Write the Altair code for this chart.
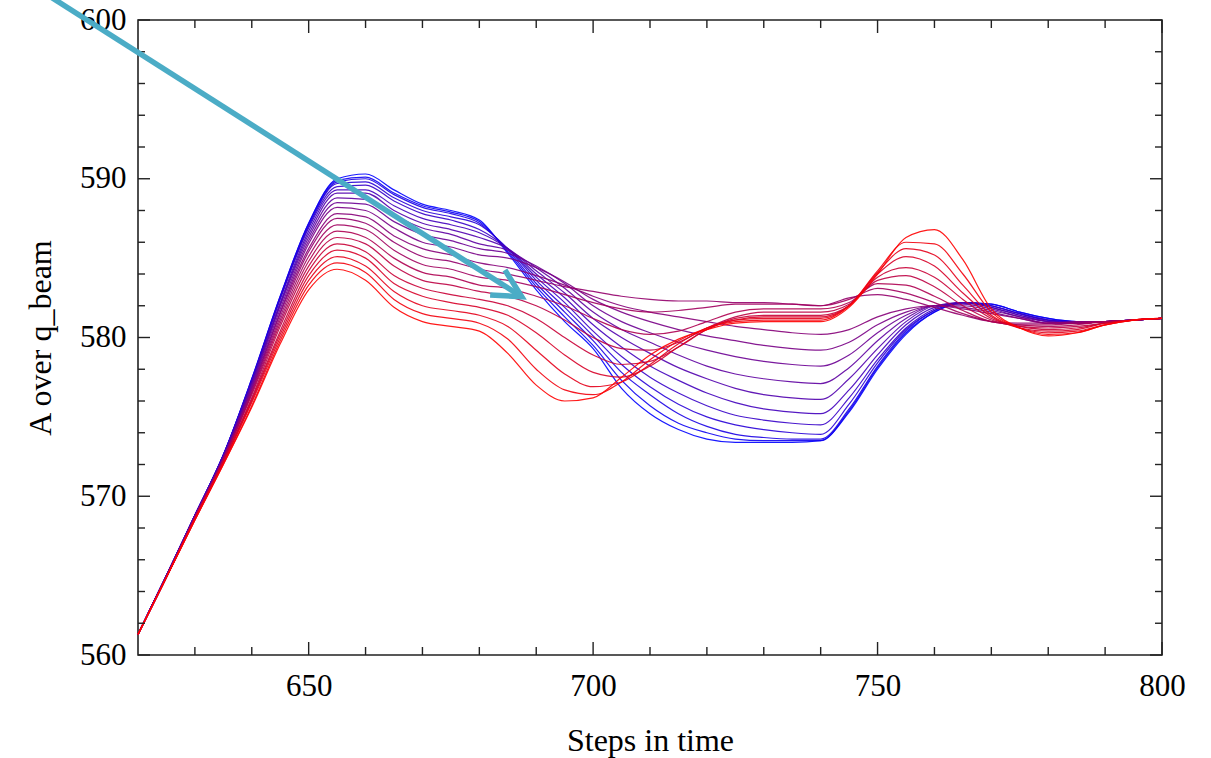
import altair as alt
import pandas as pd

# x grid (steps in time)
STEPS = [620, 625, 630, 635, 640, 645, 650, 655, 660, 665, 670, 675, 680,
         685, 690, 695, 700, 705, 710, 715, 720, 725, 730, 735, 740,
         745, 750, 755, 760, 765, 770, 775, 780, 785, 790, 795, 800]

# curves, red-most (run_00) to blue-most (run_19)
run_00 = [561.3, 564.9, 568.5, 572.0, 575.6, 579.6, 583.0, 584.3, 583.6, 581.9, 581.0, 580.7, 580.4,
          579.0, 577.0, 576.0, 576.2, 577.5, 578.9, 579.9, 580.5, 580.9, 581.0, 581.0, 581.0,
          581.9, 584.0, 586.3, 586.8, 584.9, 581.8, 580.6, 580.1, 580.3, 580.8, 581.1, 581.2]
run_01 = [561.3, 564.9, 568.5, 572.0, 575.7, 579.8, 583.3, 584.7, 584.1, 582.4, 581.5, 581.2, 580.9,
          579.9, 578.0, 576.7, 576.4, 577.2, 578.6, 579.8, 580.6, 581.0, 581.1, 581.1, 581.1,
          582.0, 584.2, 586.0, 585.9, 584.0, 581.6, 580.6, 580.2, 580.3, 580.8, 581.1, 581.2]
run_02 = [561.3, 564.9, 568.5, 572.1, 575.9, 580.0, 583.6, 585.1, 584.5, 582.9, 582.0, 581.7, 581.4,
          580.7, 579.2, 577.7, 576.9, 577.2, 578.3, 579.6, 580.6, 581.1, 581.2, 581.2, 581.2,
          582.0, 584.1, 585.6, 585.2, 583.3, 581.4, 580.6, 580.3, 580.4, 580.8, 581.1, 581.2]
run_03 = [561.3, 564.9, 568.6, 572.1, 576.0, 580.2, 583.9, 585.5, 585.0, 583.4, 582.6, 582.2, 581.9,
          581.4, 580.3, 578.9, 577.8, 577.5, 578.2, 579.4, 580.5, 581.1, 581.3, 581.3, 581.3,
          582.0, 584.0, 585.1, 584.5, 582.8, 581.3, 580.6, 580.4, 580.5, 580.9, 581.1, 581.2]
run_04 = [561.3, 564.9, 568.6, 572.2, 576.1, 580.4, 584.2, 585.9, 585.4, 583.9, 583.1, 582.7, 582.4,
          582.0, 581.2, 580.0, 578.9, 578.3, 578.5, 579.4, 580.5, 581.2, 581.4, 581.4, 581.4,
          582.0, 583.8, 584.4, 583.8, 582.4, 581.2, 580.7, 580.5, 580.6, 580.9, 581.1, 581.2]
run_05 = [561.3, 564.9, 568.6, 572.2, 576.2, 580.7, 584.5, 586.3, 585.9, 584.5, 583.6, 583.3, 582.9,
          582.6, 582.0, 581.1, 580.0, 579.3, 579.2, 579.7, 580.6, 581.3, 581.6, 581.6, 581.6,
          582.1, 583.6, 583.9, 583.2, 582.0, 581.1, 580.7, 580.6, 580.7, 580.9, 581.1, 581.2]
run_06 = [561.3, 564.9, 568.6, 572.3, 576.4, 580.9, 584.8, 586.7, 586.3, 585.0, 584.1, 583.8, 583.3,
          583.1, 582.6, 582.0, 581.2, 580.5, 580.2, 580.4, 581.0, 581.6, 581.8, 581.8, 581.8,
          582.2, 583.4, 583.3, 582.6, 581.7, 581.0, 580.8, 580.7, 580.8, 581.0, 581.1, 581.2]
run_07 = [561.3, 564.9, 568.7, 572.3, 576.5, 581.1, 585.1, 587.1, 586.8, 585.5, 584.6, 584.3, 583.8,
          583.6, 583.2, 582.7, 582.2, 581.8, 581.6, 581.7, 581.9, 582.1, 582.1, 582.1, 582.0,
          582.4, 583.1, 582.8, 582.2, 581.5, 581.0, 580.8, 580.8, 580.9, 581.0, 581.1, 581.2]
run_08 = [561.3, 564.9, 568.7, 572.3, 576.6, 581.3, 585.4, 587.5, 587.2, 586.0, 585.1, 584.8, 584.3,
          584.0, 583.6, 583.2, 582.9, 582.6, 582.4, 582.3, 582.3, 582.2, 582.2, 582.1, 582.0,
          582.5, 582.7, 582.4, 581.9, 581.4, 581.0, 580.9, 580.9, 581.0, 581.0, 581.1, 581.2]
run_09 = [561.3, 564.9, 568.7, 572.4, 576.7, 581.5, 585.6, 587.8, 587.6, 586.4, 585.6, 585.2, 584.7,
          584.4, 583.9, 583.3, 582.6, 582.0, 581.6, 581.3, 581.0, 580.7, 580.5, 580.3, 580.2,
          580.5, 581.3, 581.8, 582.0, 581.8, 581.5, 581.2, 580.9, 580.9, 581.0, 581.1, 581.2]
run_10 = [561.3, 565.0, 568.7, 572.4, 576.8, 581.6, 585.9, 588.2, 588.0, 586.9, 586.0, 585.7, 585.2,
          585.0, 584.4, 583.5, 582.4, 581.6, 581.0, 580.5, 580.1, 579.8, 579.5, 579.3, 579.2,
          579.7, 580.8, 581.6, 582.0, 581.9, 581.6, 581.2, 580.9, 580.9, 581.0, 581.1, 581.2]
run_11 = [561.3, 565.0, 568.7, 572.4, 576.9, 581.8, 586.1, 588.5, 588.4, 587.3, 586.5, 586.1, 585.6,
          585.3, 584.5, 583.4, 582.0, 581.0, 580.3, 579.7, 579.2, 578.8, 578.5, 578.3, 578.2,
          578.9, 580.3, 581.4, 582.0, 582.0, 581.7, 581.3, 580.9, 580.9, 581.0, 581.1, 581.2]
run_12 = [561.3, 565.0, 568.7, 572.5, 577.0, 582.0, 586.3, 588.8, 588.7, 587.7, 586.9, 586.5, 585.9,
          585.5, 584.4, 583.1, 581.6, 580.5, 579.7, 578.9, 578.2, 577.7, 577.4, 577.2, 577.1,
          578.1, 579.8, 581.2, 582.0, 582.1, 581.8, 581.3, 581.0, 580.9, 581.0, 581.1, 581.2]
run_13 = [561.3, 565.0, 568.8, 572.5, 577.1, 582.1, 586.5, 589.1, 589.1, 588.0, 587.2, 586.8, 586.3,
          585.6, 584.2, 582.8, 581.2, 580.0, 579.0, 578.1, 577.4, 576.8, 576.4, 576.2, 576.1,
          577.4, 579.3, 581.0, 582.0, 582.2, 581.9, 581.4, 581.0, 580.9, 581.0, 581.1, 581.2]
run_14 = [561.3, 565.0, 568.8, 572.5, 577.2, 582.2, 586.7, 589.3, 589.3, 588.3, 587.5, 587.1, 586.6,
          585.6, 584.0, 582.5, 580.8, 579.4, 578.2, 577.3, 576.5, 575.9, 575.5, 575.3, 575.2,
          576.7, 578.9, 580.8, 581.9, 582.2, 581.9, 581.4, 581.0, 580.9, 581.0, 581.1, 581.2]
run_15 = [561.3, 565.0, 568.8, 572.6, 577.3, 582.4, 586.9, 589.5, 589.6, 588.6, 587.8, 587.4, 586.8,
          585.6, 583.8, 582.2, 580.4, 578.8, 577.5, 576.5, 575.7, 575.1, 574.8, 574.6, 574.5,
          576.2, 578.6, 580.6, 581.8, 582.2, 582.0, 581.5, 581.1, 580.9, 581.0, 581.1, 581.2]
run_16 = [561.3, 565.0, 568.8, 572.6, 577.3, 582.5, 587.0, 589.7, 589.8, 588.8, 588.0, 587.6, 587.1,
          585.6, 583.6, 581.9, 580.1, 578.3, 576.9, 575.8, 575.0, 574.5, 574.2, 574.0, 573.9,
          575.8, 578.4, 580.5, 581.7, 582.2, 582.0, 581.5, 581.1, 581.0, 581.0, 581.1, 581.2]
run_17 = [561.3, 565.0, 568.8, 572.6, 577.3, 582.5, 587.1, 589.8, 590.0, 589.0, 588.2, 587.8, 587.2,
          585.5, 583.4, 581.6, 579.8, 577.8, 576.4, 575.2, 574.4, 573.9, 573.7, 573.6, 573.6,
          575.5, 578.2, 580.4, 581.7, 582.2, 582.0, 581.5, 581.1, 581.0, 581.0, 581.1, 581.2]
run_18 = [561.3, 565.0, 568.8, 572.6, 577.4, 582.6, 587.2, 589.9, 590.1, 589.1, 588.3, 587.9, 587.3,
          585.4, 583.2, 581.3, 579.5, 577.3, 575.7, 574.6, 574.0, 573.6, 573.5, 573.5, 573.5,
          575.4, 578.1, 580.3, 581.6, 582.2, 582.1, 581.6, 581.2, 581.0, 581.0, 581.1, 581.2]
run_19 = [561.3, 565.0, 568.8, 572.6, 577.4, 582.6, 587.2, 590.0, 590.3, 589.3, 588.4, 588.0, 587.4,
          585.3, 583.0, 581.0, 579.3, 576.8, 575.2, 574.2, 573.6, 573.4, 573.4, 573.4, 573.5,
          575.3, 578.0, 580.2, 581.6, 582.2, 582.1, 581.6, 581.2, 581.0, 581.0, 581.1, 581.2]

CURVES = [run_00, run_01, run_02, run_03, run_04, run_05, run_06, run_07, run_08, run_09,
          run_10, run_11, run_12, run_13, run_14, run_15, run_16, run_17, run_18, run_19]

# axis labels and ticks
X_LABELS = [650, 700, 750, 800]
X_MINOR = [630, 640, 660, 670, 680, 690, 710, 720, 730, 740, 760, 770, 780, 790]
Y_LABELS = [560, 570, 580, 590, 600]
Y_MINOR = [562, 564, 566, 568, 572, 574, 576, 578, 582, 584, 586, 588, 592, 594, 596, 598]

# annotation arrow (data coordinates)
ARROW_SHAFT_X = [597.0, 687.45]
ARROW_SHAFT_Y = [603.2, 582.57]
ARROW_HEAD_X = [684.5, 687.45, 681.9]
ARROW_HEAD_Y = [584.25, 582.57, 582.68]

W, H = 1024, 635
FONT = "Liberation Serif"

rows = []
n = len(CURVES)
for j, vals in enumerate(CURVES):
    d = n - 1 - j  # draw blue first, red last
    for x, y in zip(STEPS, vals):
        rows.append({"key": f"s{d:02d}", "ord": d, "step": x, "A": y})
df = pd.DataFrame(rows).sort_values(["ord", "step"]).reset_index(drop=True)
keys = [f"s{d:02d}" for d in range(n)]
colors = []
for d in range(n):
    r = d / (n - 1)
    colors.append("#%02x00%02x" % (round(255 * r), round(255 * (1 - r))))

xs = alt.Scale(domain=[620, 800], nice=False, zero=False)
ys = alt.Scale(domain=[560, 600], nice=False, zero=False)

XAX = alt.Axis(values=X_LABELS, ticks=False, tickSize=0, domain=False, grid=False,
               labelFlush=False, labelPadding=16, labelFont=FONT, labelFontSize=31,
               labelColor="#000", format="d", title="Steps in time", titleFont=FONT,
               titleFontSize=32, titleFontWeight="normal", titleColor="#000",
               titlePadding=24)
YAX = alt.Axis(values=Y_LABELS, ticks=False, tickSize=0, domain=False, grid=False,
               labelFlush=False, labelPadding=12, labelFont=FONT, labelFontSize=31,
               labelColor="#000", format="d", title="A over q_beam", titleFont=FONT,
               titleFontSize=32, titleFontWeight="normal", titleColor="#000",
               titlePadding=22)

lines = alt.Chart(df).mark_line(strokeWidth=1.2, opacity=0.9, interpolate="monotone").encode(
    x=alt.X("step:Q", scale=xs, axis=XAX, title="Steps in time"),
    y=alt.Y("A:Q", scale=ys, axis=YAX, title="A over q_beam"),
    color=alt.Color("key:N", scale=alt.Scale(domain=keys, range=colors), legend=None),
)

TICK = dict(color="#222", strokeWidth=1.4)


def xticks(vals, length, top):
    c = alt.Chart(pd.DataFrame({"v": vals})).mark_rule(**TICK)
    xe = alt.X("v:Q", scale=xs, axis=XAX, title="Steps in time")
    if top:
        return c.encode(x=xe, y=alt.value(0), y2=alt.value(length))
    return c.encode(x=xe, y=alt.value(H), y2=alt.value(H - length))


def yticks(vals, length, right):
    c = alt.Chart(pd.DataFrame({"v": vals})).mark_rule(**TICK)
    ye = alt.Y("v:Q", scale=ys, axis=YAX, title="A over q_beam")
    if right:
        return c.encode(y=ye, x=alt.value(W), x2=alt.value(W - length))
    return c.encode(y=ye, x=alt.value(0), x2=alt.value(length))


ticks = [
    xticks(X_LABELS, 13, False), xticks(X_MINOR, 8, False),
    xticks(X_LABELS, 13, True), xticks(X_MINOR, 8, True),
    yticks(Y_LABELS, 12, False), yticks(Y_MINOR, 7, False),
    yticks(Y_LABELS, 12, True), yticks(Y_MINOR, 7, True),
]

arrow_df = pd.DataFrame(
    [{"seg": "shaft", "o": i, "x": x, "y": y} for i, (x, y) in enumerate(zip(ARROW_SHAFT_X, ARROW_SHAFT_Y))]
    + [{"seg": "head", "o": i, "x": x, "y": y} for i, (x, y) in enumerate(zip(ARROW_HEAD_X, ARROW_HEAD_Y))]
)
arrow = alt.Chart(arrow_df).mark_line(color="#4BACC6", strokeWidth=5.5, strokeJoin="miter",
                                      strokeCap="butt").encode(
    x=alt.X("x:Q", scale=xs, axis=XAX, title="Steps in time"),
    y=alt.Y("y:Q", scale=ys, axis=YAX, title="A over q_beam"),
    detail="seg:N",
    order="o:Q",
)

chart = alt.layer(lines, *ticks, arrow).properties(
    width=W, height=H,
    autosize=alt.AutoSizeParams(type="none"),
    padding={"left": 138, "top": 20, "right": 49, "bottom": 103},
    background="white",
).configure_view(stroke="#222", strokeWidth=1.6)

chart.save("out.html", embed_options={"renderer": "svg", "actions": False})
